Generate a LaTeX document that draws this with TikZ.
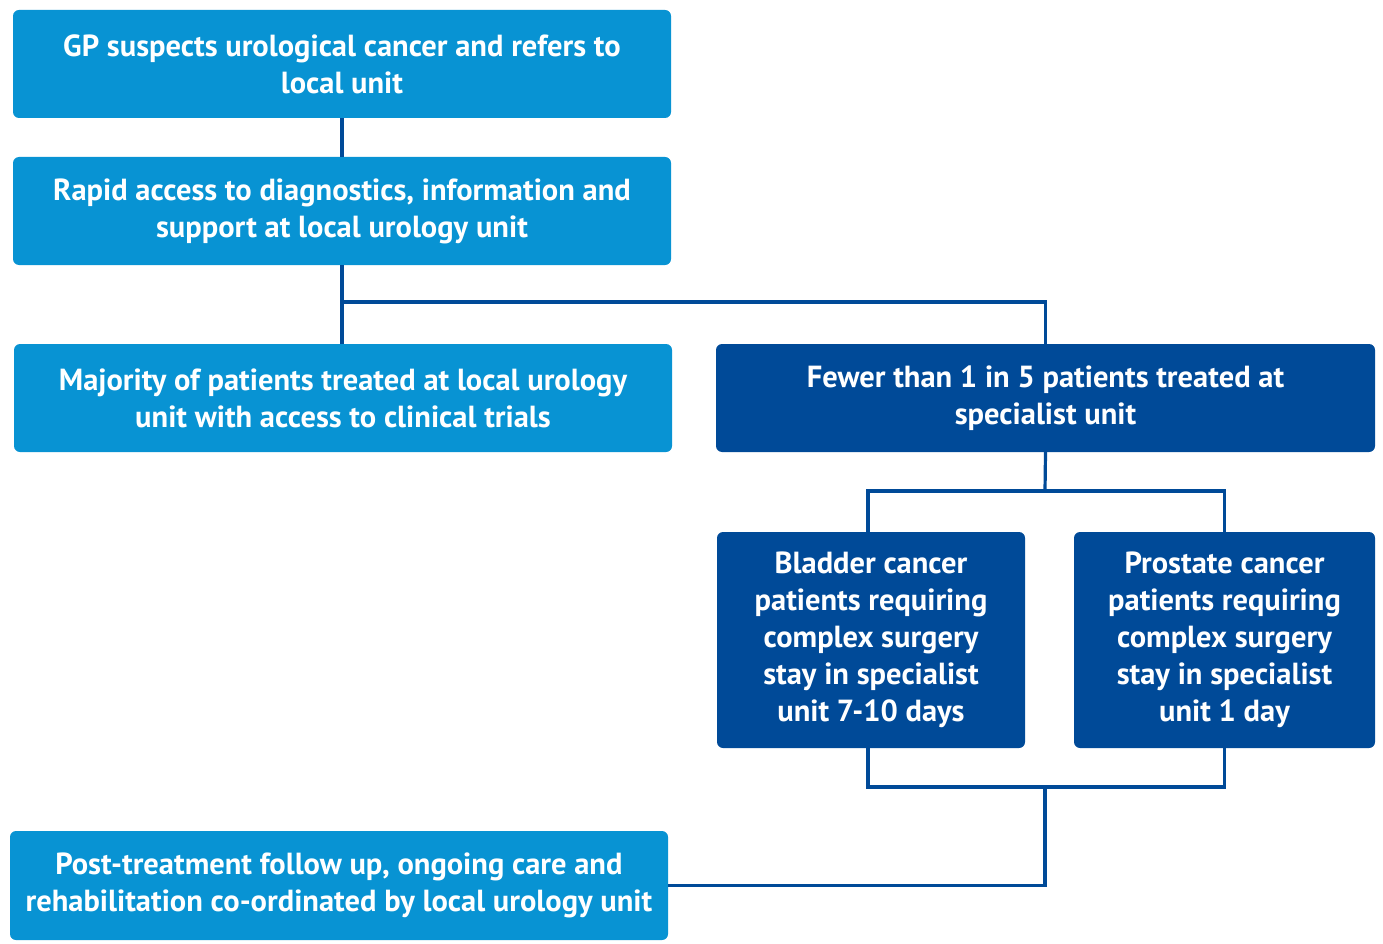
\documentclass[tikz,border=0pt]{standalone}
\usepackage{fontspec}
\setmainfont{PT Sans}
\usepackage{xcolor}
\definecolor{lightblue}{HTML}{0893D3}
\definecolor{darkblue}{HTML}{004A98}

\tikzset{
  lightbox/.style = {fill = lightblue, rounded corners = 6pt, text = white, align = center,
    font = \fontsize{30.5}{37}\selectfont\bfseries, inner sep = 0pt},
  darkbox/.style = {lightbox, fill = darkblue},
  link/.style = {draw = darkblue, line width = 3.2pt}
}

\begin{document}
\begin{tikzpicture}[x = 1pt, y = -1pt]
        \useasboundingbox (0, 0) rectangle (1383, 944);

        % Boxes
        \node [lightbox, minimum width = 658pt, minimum height = 108pt] (gp) at (342, 64) {GP suspects urological cancer and refers to\\local unit};
        \node [lightbox, minimum width = 658pt, minimum height = 108pt] (rapid) at (342, 211) {Rapid access to diagnostics, information and\\support at local urology unit};
        \node [lightbox, minimum width = 658pt, minimum height = 108pt] (local) at (343, 398) {Majority of patients treated at local urology\\unit with access to clinical trials};
        \node [darkbox, minimum width = 659pt, minimum height = 108pt] (fewer) at (1045.5, 398) {Fewer than 1 in 5 patients treated at\\specialist unit};
        \node [darkbox, minimum width = 308pt, minimum height = 216pt] (bladder) at (871, 640) {Bladder cancer\\patients requiring\\complex surgery\\stay in specialist\\unit 7-10 days};
        \node [darkbox, minimum width = 301pt, minimum height = 216pt] (prostate) at (1224.5, 640) {Prostate cancer\\patients requiring\\complex surgery\\stay in specialist\\unit 1 day};
        \node [lightbox, minimum width = 658pt, minimum height = 109pt] (post) at (339, 885.5) {Post-treatment follow up, ongoing care and\\rehabilitation co-ordinated by local urology unit};

        % Draw the links
        \coordinate (split) at (342, 302);
        \coordinate (fork) at (1045, 491);
        \coordinate (join) at (1045, 787);
        \coordinate (bl) at (868, 0);
        \draw [link] (gp.south) -- (rapid.north);
        \draw [link] (rapid.south) -- (local.north -| rapid.south);
        \draw [link] (split) -| (fewer.north);
        \draw [link] (fewer.south) -- (fork);
        \draw [link] (bl |- bladder.north) |- (fork) -| (prostate.north);
        \draw [link] (bl |- bladder.south) |- (join) -| (prostate.south);
        \draw [link] (join) |- (post.east);

    \end{tikzpicture}
\end{document}
